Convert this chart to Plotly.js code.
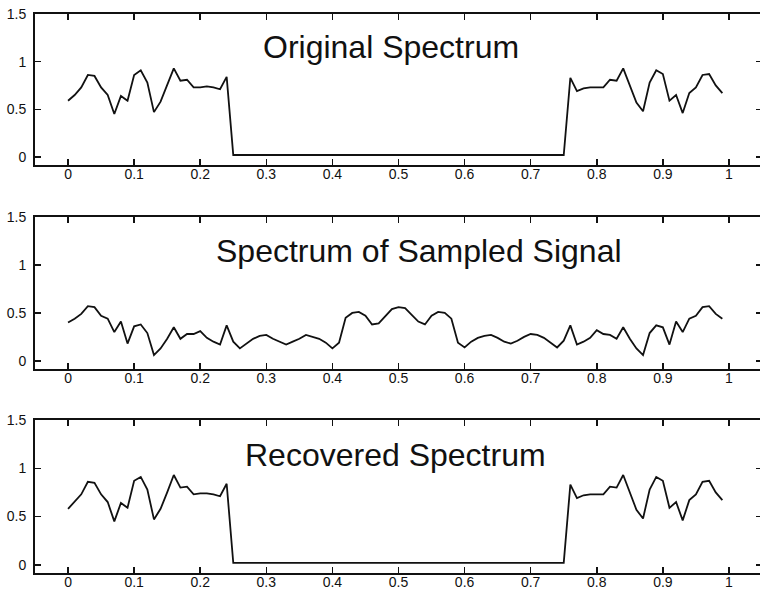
<!DOCTYPE html>
<html>
<head>
<meta charset="utf-8">
<script src="https://cdn.plot.ly/plotly-3.0.1.min.js"></script>
<style>
html, body { margin:0; padding:0; background:#fff; overflow:hidden; width:760px; height:591px; }
#chart { width:762px; height:591px; }
</style>
</head>
<body>
<div id="chart"></div>
<script>
// frequency axis (normalised), 100 samples
const freq = [0,0.01,0.02,0.03,0.04,0.05,0.06,0.07,0.08,0.09,0.10,0.11,0.12,0.13,0.14,0.15,0.16,0.17,0.18,0.19,
0.20,0.21,0.22,0.23,0.24,0.25,0.26,0.27,0.28,0.29,0.30,0.31,0.32,0.33,0.34,0.35,0.36,0.37,0.38,0.39,
0.40,0.41,0.42,0.43,0.44,0.45,0.46,0.47,0.48,0.49,0.50,0.51,0.52,0.53,0.54,0.55,0.56,0.57,0.58,0.59,
0.60,0.61,0.62,0.63,0.64,0.65,0.66,0.67,0.68,0.69,0.70,0.71,0.72,0.73,0.74,0.75,0.76,0.77,0.78,0.79,
0.80,0.81,0.82,0.83,0.84,0.85,0.86,0.87,0.88,0.89,0.90,0.91,0.92,0.93,0.94,0.95,0.96,0.97,0.98,0.99];

const originalSpectrum = [0.59,0.65,0.73,0.86,0.85,0.73,0.65,0.45,0.64,0.59,0.86,0.91,0.78,0.47,0.58,0.75,0.93,0.80,0.81,0.73,
0.73,0.74,0.73,0.71,0.84,0.02,0.02,0.02,0.02,0.02,0.02,0.02,0.02,0.02,0.02,0.02,0.02,0.02,0.02,0.02,
0.02,0.02,0.02,0.02,0.02,0.02,0.02,0.02,0.02,0.02,0.02,0.02,0.02,0.02,0.02,0.02,0.02,0.02,0.02,0.02,
0.02,0.02,0.02,0.02,0.02,0.02,0.02,0.02,0.02,0.02,0.02,0.02,0.02,0.02,0.02,0.02,0.83,0.69,0.72,0.73,
0.73,0.73,0.81,0.80,0.93,0.75,0.57,0.48,0.78,0.91,0.87,0.59,0.65,0.46,0.67,0.73,0.86,0.87,0.75,0.67];

const sampledSpectrum = [0.40,0.44,0.49,0.57,0.56,0.47,0.44,0.30,0.41,0.18,0.36,0.38,0.29,0.06,0.13,0.23,0.35,0.23,0.28,0.28,
0.31,0.24,0.20,0.17,0.37,0.20,0.13,0.18,0.23,0.26,0.27,0.23,0.20,0.17,0.20,0.23,0.27,0.25,0.23,0.19,
0.13,0.19,0.45,0.50,0.51,0.47,0.38,0.39,0.47,0.54,0.56,0.55,0.48,0.41,0.38,0.47,0.51,0.50,0.44,0.19,
0.14,0.20,0.24,0.26,0.27,0.24,0.20,0.18,0.21,0.25,0.28,0.27,0.24,0.19,0.14,0.21,0.37,0.17,0.20,0.24,
0.32,0.28,0.27,0.23,0.35,0.23,0.13,0.06,0.29,0.37,0.35,0.17,0.41,0.30,0.44,0.47,0.56,0.57,0.49,0.44];

const recoveredSpectrum = [0.58,0.65,0.73,0.86,0.85,0.73,0.65,0.45,0.64,0.59,0.87,0.91,0.78,0.47,0.58,0.75,0.93,0.80,0.81,0.73,
0.74,0.74,0.73,0.71,0.84,0.02,0.02,0.02,0.02,0.02,0.02,0.02,0.02,0.02,0.02,0.02,0.02,0.02,0.02,0.02,
0.02,0.02,0.02,0.02,0.02,0.02,0.02,0.02,0.02,0.02,0.02,0.02,0.02,0.02,0.02,0.02,0.02,0.02,0.02,0.02,
0.02,0.02,0.02,0.02,0.02,0.02,0.02,0.02,0.02,0.02,0.02,0.02,0.02,0.02,0.02,0.02,0.83,0.69,0.72,0.73,
0.73,0.73,0.81,0.80,0.93,0.75,0.57,0.48,0.78,0.91,0.87,0.59,0.65,0.46,0.67,0.73,0.86,0.87,0.75,0.67];

const panelTitles = ["Original Spectrum", "Spectrum of Sampled Signal", "Recovered Spectrum"];
const xTickVals = [0,0.1,0.2,0.3,0.4,0.5,0.6,0.7,0.8,0.9,1];
const xTickText = ["0","0.1","0.2","0.3","0.4","0.5","0.6","0.7","0.8","0.9","1"];
const yTickVals = [0,0.5,1,1.5];
const yTickText = ["0","0.5","1","1.5"];

const series = [originalSpectrum, sampledSpectrum, recoveredSpectrum];
const lineStyle = {color:'#111', width:1.8};
const traces = series.map((s,i)=>({
  x: freq, y: s, type:'scatter', mode:'lines', line: lineStyle,
  xaxis: i===0 ? 'x' : 'x'+(i+1), yaxis: i===0 ? 'y' : 'y'+(i+1),
  hoverinfo:'skip', showlegend:false
}));

const tickFont = {family:'"Liberation Sans", Arial, sans-serif', size:14, color:'#111'};
function xax(anchor){
  return {anchor:anchor, range:[-0.05,1.05], tickvals:xTickVals, ticktext:xTickText,
    ticks:'inside', ticklen:6, tickwidth:1.5, tickcolor:'#111', showline:true, linecolor:'#111', linewidth:2,
    mirror:'ticks', showgrid:false, zeroline:false, tickfont:tickFont, ticklabelstandoff:-5, fixedrange:true};
}
function yax(anchor, dom){
  return {anchor:anchor, domain:dom, range:[-0.085,1.5], tickvals:yTickVals, ticktext:yTickText,
    ticks:'inside', ticklen:6, tickwidth:1.5, tickcolor:'#111', showline:true, linecolor:'#111', linewidth:2,
    mirror:'ticks', showgrid:false, zeroline:false, tickfont:tickFont, ticklabelstandoff:4, fixedrange:true};
}

const titleX = [0.489, 0.531, 0.495];
const titleY = [1.15, 1.15, 1.14];
const annotations = panelTitles.map((t,i)=>({
  text:t, xref: i===0?'x':'x'+(i+1), yref: i===0?'y':'y'+(i+1),
  x:titleX[i], y:titleY[i], xanchor:'center', yanchor:'middle', showarrow:false,
  font:{family:'"Liberation Sans", Arial, sans-serif', size:32, color:'#111'}
}));

const layout = {
  width:762, height:591,
  margin:{l:35, r:0, t:0, b:0},
  paper_bgcolor:'#fff', plot_bgcolor:'#fff',
  xaxis: xax('y'), xaxis2: xax('y2'), xaxis3: xax('y3'),
  yaxis: yax('x', [0.7208,0.9763]),
  yaxis2: yax('x2', [0.3756,0.6328]),
  yaxis3: yax('x3', [0.0305,0.2893]),
  annotations: annotations,
  showlegend:false
};

Plotly.newPlot('chart', traces, layout, {staticPlot:true, displayModeBar:false});
</script>
</body>
</html>
